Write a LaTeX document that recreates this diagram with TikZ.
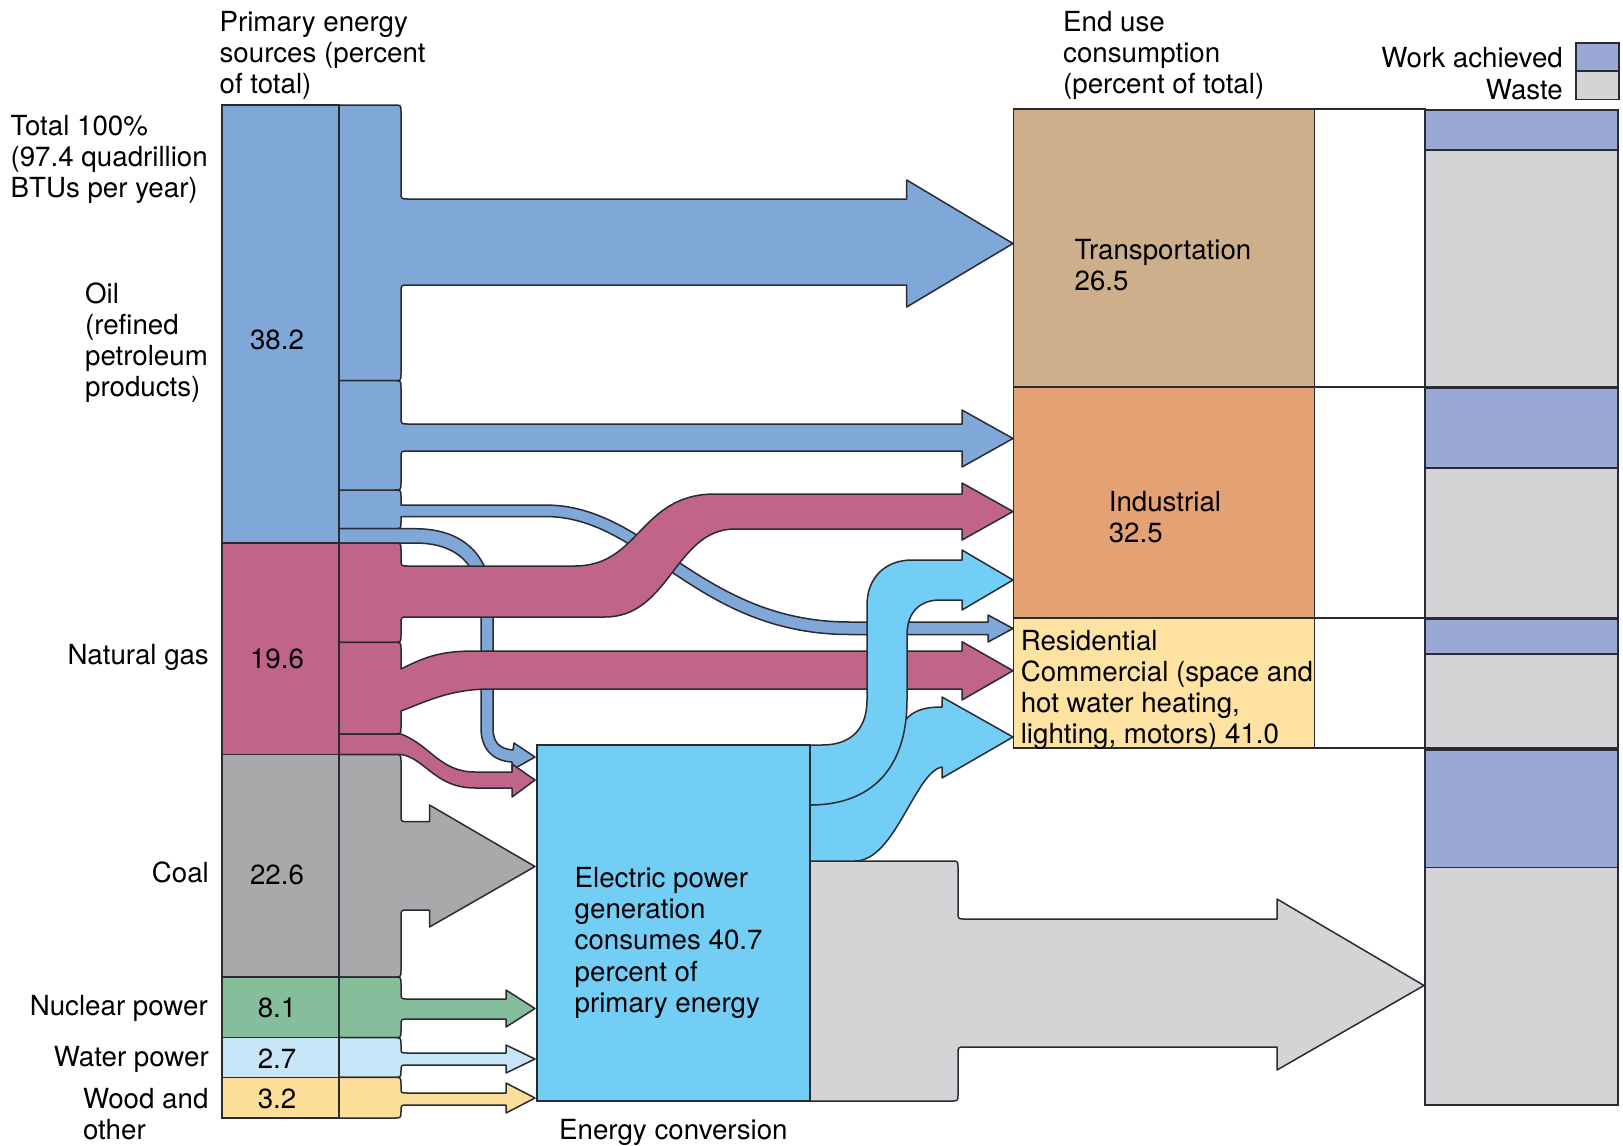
\documentclass[tikz,border=0pt]{standalone}
\usepackage{fontspec}
\setmainfont{TeX Gyre Heros}
\definecolor{edge}{HTML}{2A2A33}
\definecolor{oil}{HTML}{7FA7D8}
\definecolor{gas}{HTML}{C06589}
\definecolor{coal}{HTML}{A8A9AB}
\definecolor{nuc}{HTML}{86BE9B}
\definecolor{water}{HTML}{C6E6F7}
\definecolor{wood}{HTML}{FCDE98}
\definecolor{elec}{HTML}{72CEF4}
\definecolor{waste}{HTML}{D3D4D6}
\definecolor{tan}{HTML}{CDAF8B}
\definecolor{indus}{HTML}{E4A174}
\definecolor{resid}{HTML}{FDE2A1}
\definecolor{work}{HTML}{9AA8D6}
\begin{document}
\begin{tikzpicture}[x=1pt,y=-1pt,
  flow/.style={draw=edge, line width=1.5, line join=round},
  box/.style={draw=edge, line width=1.5},
  lbl/.style={inner sep=0, font=\fontsize{27.7}{31}\selectfont, text=black}]
\useasboundingbox (0,0) rectangle (1623,1146);

% ---------- end use boxes ----------
\draw[box, fill=tan]   (1013.3,109) rectangle (1314.5,387);
\draw[box, fill=indus] (1013.3,387) rectangle (1314.5,618);
\draw[box, fill=resid] (1013.3,618) rectangle (1314.5,748);
\draw[box, fill=white] (1314.5,109) rectangle (1425,387);
\draw[box, fill=white] (1314.5,387) rectangle (1425,618);
\draw[box, fill=white] (1314.5,618) rectangle (1425,748);

% ---------- work / waste bar ----------
\draw[box, fill=work]  (1425,110) rectangle (1618,150);
\draw[box, fill=waste] (1425,150) rectangle (1618,387);
\draw[box, fill=work]  (1425,388) rectangle (1618,468);
\draw[box, fill=waste] (1425,468) rectangle (1618,618);
\draw[box, fill=work]  (1425,619) rectangle (1618,654);
\draw[box, fill=waste] (1425,654) rectangle (1618,748);
\draw[box, fill=work]  (1425,750) rectangle (1618,867.5);
\draw[box, fill=waste] (1425,867.5) rectangle (1618,1105);

% legend
\draw[box, fill=work]  (1576,43) rectangle (1619,71);
\draw[box, fill=waste] (1576,71) rectangle (1619,99.5);

% ---------- thin oil streams (behind) ----------
\draw[flow, fill=oil] (339,490) -- (394,490) .. controls (401,490) .. (401,497) -- (401,505)
  -- (545,505) .. controls (650,505) and (700,622) .. (850,622) -- (988,622) -- (988,615)
  -- (1013,628.5) -- (988,642) -- (988,634.5) -- (850,634.5)
  .. controls (695,634.5) and (645,516.5) .. (545,516.5) -- (401,516.5) -- (401,522)
  .. controls (401,528.7) .. (394,528.7) -- (339,528.7) -- cycle;
\draw[flow, fill=oil] (339,528.7) -- (415,528.7) .. controls (468,528.7) and (493,560) .. (493,610)
  -- (493,728) .. controls (493,743) and (500,749) .. (513,750) -- (514,743) -- (535,757)
  -- (512,770) -- (512,762) .. controls (492,761) and (481,748) .. (481,728) -- (481,610)
  .. controls (481,570) and (462,543) .. (415,543) -- (339,543) -- cycle;

% ---------- oil arrows ----------
\draw[flow, fill=oil] (339,105) -- (394,105) .. controls (401,105) .. (401,112) -- (401,192)
  .. controls (401,199) .. (408,199) -- (906.7,199) -- (906.7,180) -- (1013,243.5)
  -- (906.7,307) -- (906.7,285) -- (408,285) .. controls (401,285) .. (401,292) -- (401,374)
  .. controls (401,380.7) .. (394,380.7) -- (339,380.7) -- cycle;
\draw[flow, fill=oil] (339,380.7) -- (394,380.7) .. controls (401,380.7) .. (401,387.7) -- (401,417)
  .. controls (401,424) .. (408,424) -- (962,424) -- (962,410) -- (1013,438.5) -- (962,467)
  -- (962,451) -- (408,451) .. controls (401,451) .. (401,458) -- (401,483)
  .. controls (401,490) .. (394,490) -- (339,490) -- cycle;

% ---------- gas arrows ----------
\draw[flow, fill=gas] (339,543) -- (394,543) .. controls (401,543) .. (401,550) -- (401,559)
  .. controls (401,566) .. (408,566) -- (575,566) .. controls (640,566) and (640,494) .. (715,494)
  -- (962,494) -- (962,483) -- (1013,511.5) -- (962,540) -- (962,529) -- (735,529)
  .. controls (675,529) and (670,617) .. (605,617) -- (408,617) .. controls (401,617) .. (401,624)
  -- (401,635.3) .. controls (401,642.3) .. (394,642.3) -- (339,642.3) -- cycle;
\draw[flow, fill=gas] (339,642.3) -- (394,642.3) .. controls (401,642.3) .. (401,649.3) -- (401,669)
  .. controls (425,657) and (440,651) .. (475,651) -- (962,651) -- (962,641.7) -- (1013,670.7)
  -- (962,700) -- (962,689) -- (490,689) .. controls (450,689) and (425,702) .. (401,711)
  -- (401,727) .. controls (401,734) .. (394,734) -- (339,734) -- cycle;
\draw[flow, fill=gas] (339,734) -- (401,734) .. controls (430,745) and (440,772) .. (475,772)
  -- (512,772) -- (512,764) -- (535,780) -- (512,797) -- (512,788) -- (475,788)
  .. controls (435,788) and (425,758) .. (401,754.5) -- (339,754.5) -- cycle;

% ---------- coal / nuclear / water / wood ----------
\draw[flow, fill=coal] (339,754.5) -- (394,754.5) .. controls (401,754.5) .. (401,761.5) -- (401,815)
  .. controls (401,821.7) .. (408,821.7) -- (429.5,821.7) -- (429.5,805) -- (535,866.5)
  -- (429.5,927) -- (429.5,910) -- (408,910) .. controls (401,910) .. (401,917) -- (401,970)
  .. controls (401,977) .. (394,977) -- (339,977) -- cycle;
\draw[flow, fill=nuc] (339,977) -- (394,977) .. controls (401,977) .. (401,984) -- (401,992)
  .. controls (401,999) .. (408,999) -- (506,999) -- (506,990) -- (535,1008.5) -- (506,1027)
  -- (506,1019) -- (408,1019) .. controls (401,1019) .. (401,1026) -- (401,1031)
  .. controls (401,1037.7) .. (394,1037.7) -- (339,1037.7) -- cycle;
\draw[flow, fill=water] (339,1037.7) -- (394,1037.7) .. controls (401,1037.7) .. (401,1044.7)
  -- (401,1047) .. controls (401,1053) .. (407,1053) -- (506,1053) -- (506,1045) -- (535,1059)
  -- (506,1073) -- (506,1065) -- (407,1065) .. controls (401,1065) .. (401,1071)
  .. controls (401,1077.3) .. (394,1077.3) -- (339,1077.3) -- cycle;
\draw[flow, fill=wood] (339,1077.3) -- (394,1077.3) .. controls (401,1077.3) .. (401,1084.3)
  -- (401,1087) .. controls (401,1093) .. (407,1093) -- (506,1093) -- (506,1083) -- (535,1098)
  -- (506,1113) -- (506,1105) -- (407,1105) .. controls (401,1105) .. (401,1111)
  .. controls (401,1118) .. (394,1118) -- (339,1118) -- cycle;

% ---------- waste arrow ----------
\draw[flow, fill=waste] (810,861) -- (951,861) .. controls (958,861) .. (958,868) -- (958,912)
  .. controls (958,919) .. (965,919) -- (1277,919) -- (1277,899) -- (1424,985.5)
  -- (1277,1070) -- (1277,1047) -- (965,1047) .. controls (958,1047) .. (958,1054)
  -- (958,1094) .. controls (958,1101) .. (951,1101) -- (810,1101) -- cycle;

% ---------- electricity flows ----------
\draw[flow, fill=elec] (810,805) .. controls (850,803) and (885,765) .. (895,738)
  .. controls (905,712) and (920,707) .. (942,707) -- (942,697) -- (1013,737) -- (942,778)
  -- (942,767) .. controls (915,772) and (895,861) .. (855,861) -- (810,861) -- cycle;
\draw[flow, fill=elec] (810,745) -- (822,745) .. controls (852,745) and (867,728) .. (867,700)
  -- (867,605) .. controls (867,578) and (885,560) .. (912,560) -- (962,560) -- (962,550)
  -- (1013,580) -- (962,610) -- (962,600) -- (940,600) .. controls (920,600) and (907,612) .. (907,635)
  -- (907,700) .. controls (907,770) and (870,805) .. (810,805) -- cycle;
\draw[box, fill=elec] (537,745) rectangle (810,1101);

% ---------- source blocks ----------
\draw[box, fill=oil]   (222,105) rectangle (339,543);
\draw[box, fill=gas]   (222,543) rectangle (339,754.5);
\draw[box, fill=coal]  (222,754.5) rectangle (339,977);
\draw[box, fill=nuc]   (222,977) rectangle (339,1037.7);
\draw[box, fill=water] (222,1037.7) rectangle (339,1077.3);
\draw[box, fill=wood]  (222,1077.3) rectangle (339,1118);

% ---------- texts ----------
\node[lbl, anchor=base west] (h1a) at (219.4,31) {Primary energy};
\node[lbl, anchor=base west] (h1b) at (219.4,62) {sources (percent};
\node[lbl, anchor=base west] (h1c) at (219.4,93) {of total)};
\node[lbl, anchor=base west] (h2a) at (1063,31) {End use};
\node[lbl, anchor=base west] (h2b) at (1063,62) {consumption};
\node[lbl, anchor=base west] (h2c) at (1063,93) {(percent of total)};
\node[lbl, anchor=base east] (lg1) at (1563,67) {Work achieved};
\node[lbl, anchor=base east] (lg2) at (1563,99) {Waste};

\node[lbl, anchor=base west] (tot1) at (10.4,135) {Total 100\%};
\node[lbl, anchor=base west] (tot2) at (10.4,166) {(97.4 quadrillion};
\node[lbl, anchor=base west] (tot3) at (10.4,197) {BTUs per year)};
\node[lbl, anchor=base west] (oil1) at (84.9,303) {Oil};
\node[lbl, anchor=base west] (oil2) at (84.9,334) {(refined};
\node[lbl, anchor=base west] (oil3) at (84.9,365) {petroleum};
\node[lbl, anchor=base west] (oil4) at (84.9,396) {products)};
\node[lbl, anchor=base east] (gasl) at (209,664) {Natural gas};
\node[lbl, anchor=base east] (coall) at (209,882.6) {Coal};
\node[lbl, anchor=base east] (nucl) at (208,1015) {Nuclear power};
\node[lbl, anchor=base east] (watl) at (209,1066.8) {Water power};
\node[lbl, anchor=base west] (wood1) at (82.8,1108) {Wood and};
\node[lbl, anchor=base west] (wood2) at (82.8,1139) {other};

\node[lbl, anchor=base] (v1) at (277,349) {38.2};
\node[lbl, anchor=base] (v2) at (277,668) {19.6};
\node[lbl, anchor=base] (v3) at (277,884.6) {22.6};
\node[lbl, anchor=base] (v4) at (277,1017) {8.1};
\node[lbl, anchor=base] (v5) at (277,1068) {2.7};
\node[lbl, anchor=base] (v6) at (277,1108) {3.2};

\node[lbl, anchor=base west] (tr1) at (1074.4,259.5) {Transportation};
\node[lbl, anchor=base west] (tr2) at (1074.4,290.5) {26.5};
\node[lbl, anchor=base west] (in1) at (1108.6,511) {Industrial};
\node[lbl, anchor=base west] (in2) at (1108.6,542) {32.5};
\node[lbl, anchor=base west] (re1) at (1020.6,650) {Residential};
\node[lbl, anchor=base west] (re2) at (1020.6,681) {Commercial (space and};
\node[lbl, anchor=base west] (re3) at (1020.6,712) {hot water heating,};
\node[lbl, anchor=base west] (re4) at (1020.6,743) {lighting, motors) 41.0};

\node[lbl, anchor=base west] (el1) at (574.5,887.7) {Electric power};
\node[lbl, anchor=base west] (el2) at (574.5,918.8) {generation};
\node[lbl, anchor=base west] (el3) at (574.5,949.8) {consumes 40.7};
\node[lbl, anchor=base west] (el4) at (574.5,981) {percent of};
\node[lbl, anchor=base west] (el5) at (574.5,1012) {primary energy};
\node[lbl, anchor=base west] (ec) at (559,1139) {Energy conversion};
\end{tikzpicture}
\end{document}
